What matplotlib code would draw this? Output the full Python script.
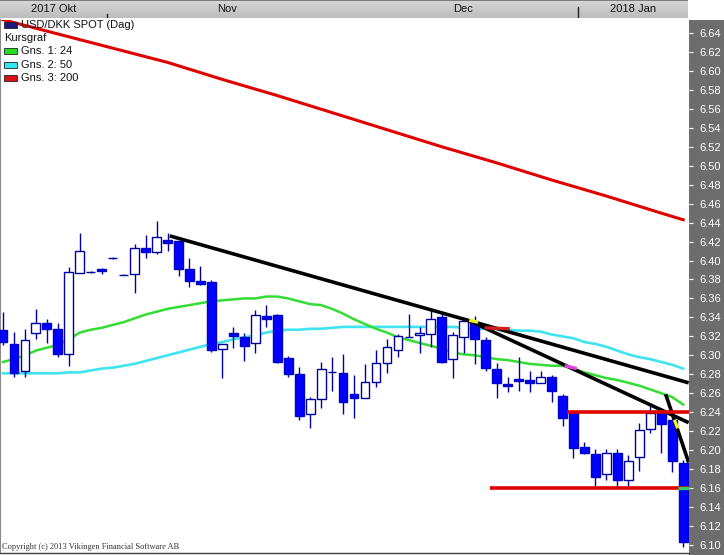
"""USD/DKK daily candles with moving averages and hand drawn trend lines."""

import matplotlib
matplotlib.use("Agg")
import matplotlib.pyplot as plt
import numpy as np
import pandas as pd
from matplotlib.colors import LinearSegmentedColormap
from matplotlib.patches import Rectangle

W, H = 724, 555

# daily sessions 18 Oct 2017 - 12 Jan 2018
opens = [6.327, 6.312, 6.283, 6.324, 6.334, 6.328, 6.301, 6.387, 6.388, 6.391,
         6.403, 6.385, 6.386, 6.413, 6.409, 6.422, 6.421, 6.391, 6.378, 6.377,
         6.307, 6.324, 6.319, 6.313, 6.341, 6.343, 6.297, 6.280, 6.238, 6.254,
         6.282, 6.281, 6.259, 6.255, 6.272, 6.292, 6.306, 6.319, 6.321, 6.323,
         6.340, 6.296, 6.319, 6.335, 6.316, 6.286, 6.270, 6.275, 6.274, 6.271,
         6.277, 6.257, 6.239, 6.203, 6.196, 6.175, 6.197, 6.168, 6.193, 6.222,
         6.239, 6.232, 6.186]
highs = [6.346, 6.325, 6.328, 6.349, 6.338, 6.334, 6.393, 6.429, 6.389, 6.392,
         6.404, 6.386, 6.417, 6.427, 6.442, 6.429, 6.421, 6.403, 6.394, 6.379,
         6.312, 6.330, 6.324, 6.348, 6.353, 6.344, 6.299, 6.288, 6.256, 6.293,
         6.298, 6.301, 6.279, 6.291, 6.306, 6.317, 6.322, 6.344, 6.330, 6.350,
         6.345, 6.325, 6.339, 6.341, 6.319, 6.292, 6.277, 6.298, 6.283, 6.283,
         6.279, 6.259, 6.239, 6.209, 6.201, 6.201, 6.201, 6.195, 6.229, 6.250,
         6.244, 6.232, 6.190]
lows = [6.311, 6.277, 6.277, 6.317, 6.313, 6.298, 6.289, 6.387, 6.387, 6.386,
        6.402, 6.385, 6.366, 6.403, 6.407, 6.410, 6.384, 6.372, 6.374, 6.303,
        6.276, 6.308, 6.294, 6.302, 6.330, 6.292, 6.277, 6.232, 6.223, 6.244,
        6.262, 6.238, 6.234, 6.255, 6.267, 6.281, 6.298, 6.319, 6.302, 6.309,
        6.292, 6.276, 6.302, 6.291, 6.283, 6.255, 6.261, 6.262, 6.261, 6.271,
        6.251, 6.225, 6.192, 6.196, 6.162, 6.168, 6.161, 6.162, 6.178, 6.218,
        6.197, 6.177, 6.098]
closes = [6.314, 6.281, 6.316, 6.334, 6.328, 6.301, 6.388, 6.410, 6.388, 6.389,
          6.403, 6.385, 6.413, 6.409, 6.425, 6.418, 6.391, 6.378, 6.375, 6.306,
          6.312, 6.320, 6.310, 6.343, 6.338, 6.293, 6.280, 6.236, 6.254, 6.286,
          6.282, 6.251, 6.255, 6.272, 6.292, 6.309, 6.320, 6.319, 6.324, 6.338,
          6.293, 6.321, 6.336, 6.317, 6.287, 6.271, 6.268, 6.273, 6.271, 6.277,
          6.262, 6.234, 6.202, 6.197, 6.172, 6.197, 6.168, 6.189, 6.221, 6.239,
          6.228, 6.189, 6.103]

ma24 = [6.293, 6.296, 6.300, 6.305, 6.308, 6.311, 6.317, 6.324, 6.327, 6.329,
        6.332, 6.335, 6.339, 6.343, 6.346, 6.349, 6.351, 6.353, 6.355, 6.357,
        6.358, 6.359, 6.360, 6.360, 6.362, 6.362, 6.360, 6.357, 6.354, 6.353,
        6.349, 6.344, 6.338, 6.333, 6.328, 6.324, 6.319, 6.316, 6.313, 6.310,
        6.307, 6.303, 6.301, 6.300, 6.298, 6.296, 6.295, 6.293, 6.291, 6.290,
        6.289, 6.289, 6.286, 6.282, 6.279, 6.276, 6.274, 6.271, 6.268, 6.264,
        6.260, 6.256, 6.248]
ma50 = [6.281, 6.281, 6.281, 6.281, 6.281, 6.281, 6.282, 6.282, 6.284, 6.286,
        6.287, 6.289, 6.291, 6.294, 6.297, 6.300, 6.303, 6.306, 6.309, 6.312,
        6.314, 6.317, 6.319, 6.321, 6.324, 6.326, 6.327, 6.327, 6.328, 6.328,
        6.329, 6.330, 6.330, 6.330, 6.330, 6.330, 6.330, 6.330, 6.330, 6.330,
        6.330, 6.330, 6.329, 6.328, 6.328, 6.328, 6.327, 6.326, 6.326, 6.325,
        6.322, 6.320, 6.318, 6.314, 6.312, 6.309, 6.305, 6.301, 6.298, 6.296,
        6.293, 6.290, 6.286]
ma200_idx = [0, 5, 10, 15, 20, 25, 30, 35, 40, 45, 50, 55, 60, 62]
ma200 = [6.654, 6.639, 6.624, 6.609, 6.591, 6.574, 6.556, 6.538, 6.520,
         6.503, 6.485, 6.468, 6.450, 6.443]

# trend lines (session index, price)
trend_x0 = [15.2, 42.4, 60.4]
trend_y0 = [6.426, 6.337, 6.259]
trend_x1 = [62.5, 62.5, 62.5]
trend_y1 = [6.271, 6.229, 6.187]

# horizontal support / resistance
level_vals = [6.24, 6.16]
level_from = [51.4, 44.4]

# small coloured marks the drawing tool left on the lines
mark_x0 = [42.5, 61.2, 43.9, 51.2, 61.5]
mark_x1 = [43.3, 61.5, 46.2, 52.3, 62.5]
mark_y0 = [6.337, 6.232, 6.329, 6.289, 6.16]
mark_y1 = [6.335, 6.223, 6.328, 6.286, 6.16]
mark_col = ["#f0f020", "#f0f020", "#d02020", "#e040e0", "#30d060"]

month_labels = ["2017 Okt", "Nov", "Dec", "2018 Jan"]
dates = pd.bdate_range("2017-10-18", periods=len(closes))

legend_labels = ["USD/DKK SPOT (Dag)", "Kursgraf", "Gns. 1: 24", "Gns. 2: 50", "Gns. 3: 200"]
legend_colors = ["#1a1a80", None, "#22dd22", "#33e6ee", "#dd1111"]

FONT = "Liberation Sans"
XLIM = (-0.27, 62.53)
YLIM = (6.0915, 6.6537)

fig = plt.figure(figsize=(W / 100, H / 100), dpi=100)
fig.patch.set_facecolor("white")

# grey price axis panel on the right
fig.add_artist(Rectangle((689 / W, 0), 35 / W, 535 / H, transform=fig.transFigure,
                         facecolor="#6d6d6d", edgecolor="none", zorder=-1))

ax = fig.add_axes([0, 2 / H, 689 / W, 533 / H])
ax.set_xlim(*XLIM)
ax.set_ylim(*YLIM)

x = np.arange(len(closes))
o = np.array(opens)
c = np.array(closes)
up = c >= o

ax.plot(x, ma50, color="#40e4f0", lw=1.9, zorder=1)
ax.plot(x, ma24, color="#33dd33", lw=1.8, zorder=1)
ax.plot(ma200_idx, ma200, color="#e00000", lw=2.2, zorder=1)

ax.vlines(x, lows, highs, color="#0000a0", lw=1.0, zorder=2)
ax.bar(x[up], (c - o)[up], bottom=o[up], width=0.8, facecolor="white",
       edgecolor="#0000a0", lw=1.0, zorder=3)
ax.bar(x[~up], (o - c)[~up], bottom=c[~up], width=0.8, facecolor="#0000ff",
       edgecolor="#0000c8", lw=1.0, zorder=3)

for x0, y0, x1, y1 in zip(trend_x0, trend_y0, trend_x1, trend_y1):
    ax.plot([x0, x1], [y0, y1], color="black", lw=2.6, solid_capstyle="butt", zorder=4)
for v, x0 in zip(level_vals, level_from):
    ax.plot([x0, XLIM[1]], [v, v], color="#e00000", lw=2.6, solid_capstyle="butt", zorder=4)
for x0, x1, y0, y1, col in zip(mark_x0, mark_x1, mark_y0, mark_y1, mark_col):
    ax.plot([x0, x1], [y0, y1], color=col, lw=2.4, solid_capstyle="butt", zorder=5)

ax.set_xticks([])
ax.yaxis.tick_right()
ticks = np.round(np.arange(6.10, 6.641, 0.02), 2)
ax.set_yticks(ticks)
ax.set_yticklabels([f"{t:.2f}" for t in ticks], family=FONT)
ax.tick_params(axis="y", colors="white", length=3, width=0.8, pad=4.5, labelsize=8)
for s in ["top", "right"]:
    ax.spines[s].set_visible(False)
ax.spines["left"].set_color("#8a8a8a")
ax.spines["left"].set_linewidth(1.5)
ax.spines["bottom"].set_color("#404040")
ax.spines["bottom"].set_linewidth(1.0)

# month bar across the top
bar = fig.add_axes([0, 1 - 18 / H, 688 / W, 18 / H])
grad = np.linspace(0, 1, 18)[:, None]
cmap = LinearSegmentedColormap.from_list("bar", ["#d6d6d6", "#bdbdbd"])
bar.imshow(grad, aspect="auto", cmap=cmap, extent=[XLIM[0], XLIM[1], 0, 1], origin="upper")
bar.set_xlim(*XLIM)
bar.set_ylim(0, 1)
bar.axis("off")
bar.axhline(0.98, color="#6a6a6a", lw=1.2)

months = dates.to_period("M")
starts = [i for i in range(1, len(dates)) if months[i] != months[i - 1]]
edges = [XLIM[0]] + [s - 0.5 for s in starts] + [XLIM[1]]
for lab, a, b in zip(month_labels, edges[:-1], edges[1:]):
    bar.text((a + b) / 2, 0.5, lab, ha="center", va="center", fontsize=8,
             family=FONT, color="#111111")
bar.plot([edges[1]] * 2, [0.0, 0.25], color="#222222", lw=1)
bar.plot([edges[3]] * 2, [0.0, 0.6], color="#222222", lw=1)

# legend in the top left corner
for i, (lab, col) in enumerate(zip(legend_labels, legend_colors)):
    yy = 1 - (25 + 13.2 * i) / H
    if col is None:
        fig.text(4 / W, yy, lab, fontsize=8, family=FONT, va="center", color="#111111")
        continue
    fig.add_artist(Rectangle((4 / W, yy - 3 / H), 13 / W, 6 / H, transform=fig.transFigure,
                             facecolor=col, edgecolor="#222222", lw=0.6, zorder=6))
    fig.text(21 / W, yy, lab, fontsize=8, family=FONT, va="center", color="#111111", zorder=6)

fig.text(2 / W, 1 - 547 / H, "Copyright (c) 2013 Vikingen Financial Software AB",
         fontsize=6, family="Liberation Serif", va="center", color="#333333")

fig.savefig("out.png", dpi=100)
plt.close(fig)
